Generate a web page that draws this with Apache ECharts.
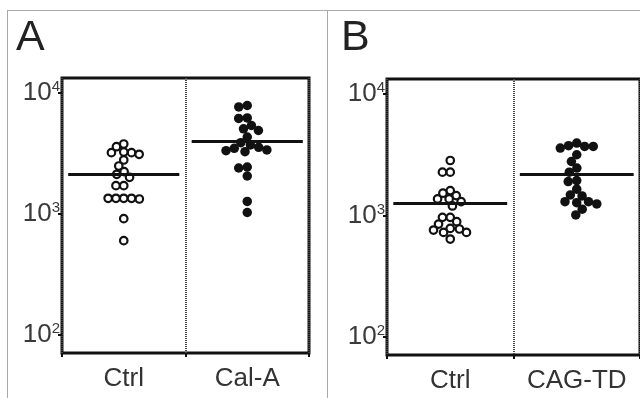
<!DOCTYPE html>
<html><head><meta charset="utf-8">
<script src="https://cdn.jsdelivr.net/npm/echarts@6/dist/echarts.min.js"></script>
<style>html,body{margin:0;padding:0;background:#fff}#c{width:640px;height:398px}</style>
</head><body><div id="c"></div>
<script>
// ---- data ----
const panelLetters = ['A', 'B'];
const categoriesA = ['Ctrl', 'Cal-A'];
const categoriesB = ['Ctrl', 'CAG-TD'];
const ctrlA = [3789, 3597, 3211, 3114, 3254, 3211, 2795, 2493, 2129, 2237, 2011, 1714, 1714, 1348, 1348, 1330, 1348, 1348, 915, 602];
const calA = [7882, 7662, 6157, 6215, 5387, 4899, 5059, 4328, 3717, 3491, 3336, 3272, 3381, 3558, 3884, 2400, 2446, 2061, 1269, 1029];
const ctrlB = [2837, 2275, 2275, 1604, 1526, 1458, 1370, 1300, 1370, 1198, 966, 850, 889, 966, 783, 759, 726, 640, 726, 774];
const cagTD = [3704, 3950, 3704, 3593, 3754, 3163, 2784, 2455, 2275, 1902, 1939, 1647, 1449, 1477, 1300, 1276, 1300, 1245, 1126, 1010];
const meansA = [2129, 3959];
const meansB = [1262, 2204];
const yRange = [71, 13300];

const FONT = 'Liberation Sans, Arial, sans-serif';
const INK = '#111';
const chart = echarts.init(document.getElementById('c'), null, {renderer: 'canvas'});

const panels = [
  {cats: categoriesA, groups: [ctrlA, calA], means: meansA, grid: {left: 62, top: 78, width: 247, height: 275}},
  {cats: categoriesB, groups: [ctrlB, cagTD], means: meansB, grid: {left: 387, top: 79, width: 253, height: 276}}
];

function yFormatter(v) {
  const e = String(Math.round(Math.log10(v)));
  return '{b|10}{s|' + e + '}';
}

function buildOption(offsets) {
  const grids = [], xAxes = [], yAxes = [], series = [];
  panels.forEach((p, pi) => {
    grids.push(Object.assign({show: true, borderColor: INK, borderWidth: 3, backgroundColor: 'transparent'}, p.grid));
    xAxes.push({
      type: 'category', gridIndex: pi, data: p.cats, boundaryGap: true, position: 'bottom',
      axisLine: {show: false},
      axisTick: {show: true, interval: 0, length: 4, lineStyle: {color: INK, width: 2}},
      axisLabel: {interval: 0, fontSize: 26, color: '#333', margin: 13, fontFamily: FONT},
      splitLine: {show: true, interval: 0, lineStyle: {color: '#444', width: 2, type: [1, 1]}}
    });
    xAxes.push({type: 'value', gridIndex: pi, min: 0, max: 2, show: false});
    yAxes.push({
      type: 'log', logBase: 10, gridIndex: pi, min: yRange[0], max: yRange[1],
      axisLine: {show: false},
      axisTick: {show: true, length: 4, lineStyle: {color: INK, width: 2}},
      splitLine: {show: false},
      axisLabel: {
        margin: 2, showMinLabel: false, showMaxLabel: false, formatter: yFormatter,
        rich: {
          b: {fontSize: 26, color: '#3a3a3a', fontFamily: FONT},
          s: {fontSize: 15, color: '#3a3a3a', fontFamily: FONT, padding: [0, 0, 12, 0]}
        }
      }
    });
    p.groups.forEach((vals, gi) => {
      const filled = gi === 1;
      const offs = offsets ? offsets[pi][gi] : vals.map(() => 0);
      series.push({
        type: 'scatter', xAxisIndex: pi * 2 + 1, yAxisIndex: pi,
        symbol: 'circle', symbolSize: filled ? 9.5 : 7.5,
        itemStyle: filled ? {color: INK, opacity: 1} : {color: '#fff', borderColor: INK, borderWidth: 2.2, opacity: 1},
        data: vals.map((v, i) => [gi + 0.5 + offs[i], v]),
        markLine: {
          silent: true, symbol: 'none', label: {show: false}, animation: false,
          lineStyle: {color: INK, width: 3, type: 'solid', opacity: 1},
          data: [[{coord: [gi + 0.05, p.means[gi]]}, {coord: [gi + 0.95, p.means[gi]]}]]
        }
      });
    });
  });
  return {
    animation: false,
    backgroundColor: '#fff',
    grid: grids, xAxis: xAxes, yAxis: yAxes, series: series,
    graphic: [
      {type: 'line', shape: {x1: 7, y1: 10.5, x2: 640, y2: 10.5}, style: {stroke: '#aaa', lineWidth: 1}},
      {type: 'line', shape: {x1: 7.5, y1: 10, x2: 7.5, y2: 398}, style: {stroke: '#aaa', lineWidth: 1}},
      {type: 'line', shape: {x1: 327.5, y1: 10, x2: 327.5, y2: 398}, style: {stroke: '#aaa', lineWidth: 1}},
      {type: 'text', left: 16, top: 17, style: {text: panelLetters[0], font: '43px ' + FONT, fill: '#222'}},
      {type: 'text', left: 341, top: 17, style: {text: panelLetters[1], font: '43px ' + FONT, fill: '#222'}}
    ]
  };
}

function swarm(ys, D) {
  const idx = ys.map((y, i) => i).sort((a, b) => ys[a] - ys[b]);
  const placed = [];
  const xs = new Array(ys.length);
  for (const i of idx) {
    const y = ys[i];
    const near = placed.filter(p => Math.abs(p.y - y) < D);
    const cands = [0];
    near.forEach(p => {
      const dx = Math.sqrt(D * D - (p.y - y) * (p.y - y));
      cands.push(p.x + dx, p.x - dx);
    });
    cands.sort((a, b) => Math.abs(a) - Math.abs(b) || a - b);
    let best = 0;
    for (const c of cands) {
      if (near.every(p => (p.x - c) * (p.x - c) + (p.y - y) * (p.y - y) >= D * D - 1e-6)) { best = c; break; }
    }
    xs[i] = best;
    placed.push({x: best, y: y});
  }
  return xs;
}

chart.setOption(buildOption(null));
const offsets = panels.map((p, pi) => {
  const finder = {xAxisIndex: pi * 2 + 1, yAxisIndex: pi};
  const pxPerUnit = chart.convertToPixel(finder, [1, 1000])[0] - chart.convertToPixel(finder, [0, 1000])[0];
  return p.groups.map((vals, gi) => {
    const ys = vals.map(v => chart.convertToPixel(finder, [0.5, v])[1]);
    return swarm(ys, gi === 1 ? 8.6 : 7.8).map(px => px / pxPerUnit);
  });
});
chart.setOption(buildOption(offsets), true);
</script>
</body></html>
